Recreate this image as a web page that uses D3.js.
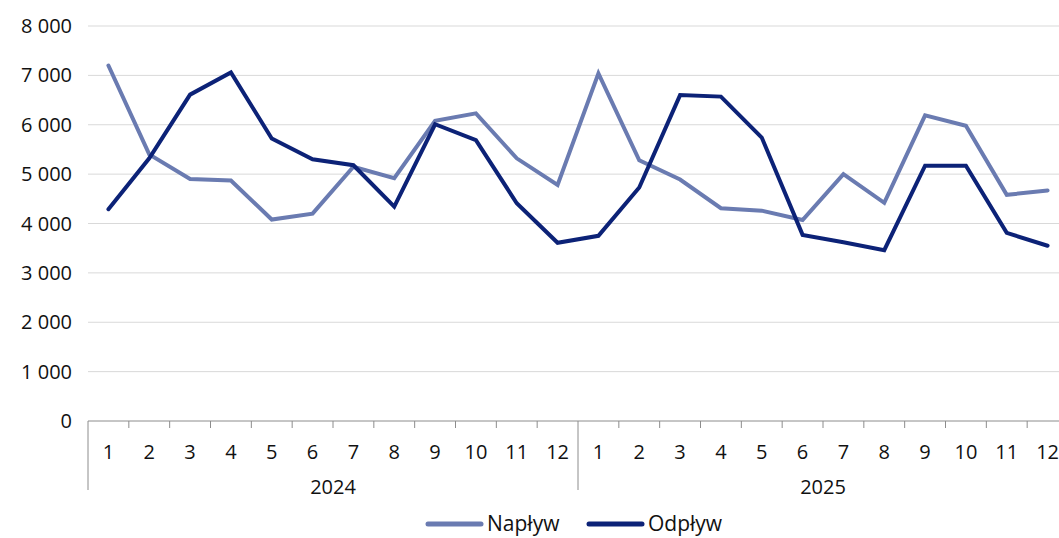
<!DOCTYPE html>
<html>
<head>
<meta charset="utf-8">
<script src="https://cdn.jsdelivr.net/npm/d3@7"></script>
<style>
  body { margin: 0; background: #fff; }
  svg text { font-family: "Open Sans", "Noto Sans", sans-serif; fill: #111; }
</style>
</head>
<body>
<div id="chart"></div>
<script>
//chart data
var years = ["2024", "2025"];
var months = ["1","2","3","4","5","6","7","8","9","10","11","12"];
var naplyw = [7200, 5400, 4900, 4870, 4080, 4200, 5150, 4920, 6080, 6230, 5320, 4780,
              7040, 5280, 4890, 4310, 4260, 4070, 5000, 4420, 6190, 5980, 4580, 4670];
var odplyw = [4290, 5320, 6610, 7060, 5720, 5300, 5180, 4340, 6010, 5690, 4410, 3610,
              3750, 4730, 6600, 6570, 5740, 3770, 3620, 3460, 5170, 5170, 3810, 3550];
var yTicks = [0, 1000, 2000, 3000, 4000, 5000, 6000, 7000, 8000];
var seriesNames = ["Napływ", "Odpływ"];
var seriesColors = ["#6a7bb1", "#0c2277"];

var width = 1059, height = 538;
var margin = {left: 88, top: 26, bottom: 117};
var plotRight = 1068; //last band runs a little past the frame edge

var svg = d3.select("#chart").append("svg")
    .attr("width", width)
    .attr("height", height);

//one category per month of each year
var cats = [];
years.forEach(function(y){
  months.forEach(function(m){ cats.push(y + "-" + m); });
});

var x = d3.scaleBand()
    .domain(cats)
    .range([margin.left, plotRight]);

var y = d3.scaleLinear()
    .domain([0, 8000])
    .range([height - margin.bottom, margin.top]);

var fmt = function(v){ return d3.format(",")(v).replace(/,/g, " "); };

//gridlines
svg.selectAll(".grid")
    .data(yTicks.slice(1))
    .enter().append("line")
    .attr("x1", margin.left).attr("x2", width)
    .attr("y1", function(d){ return y(d); })
    .attr("y2", function(d){ return y(d); })
    .attr("stroke", "#d9d9d9")
    .attr("stroke-width", 1);

//y labels
svg.selectAll(".ylab")
    .data(yTicks)
    .enter().append("text")
    .attr("x", 72)
    .attr("y", function(d){ return y(d) + 7; })
    .attr("text-anchor", "end")
    .style("font-size", "20px")
    .text(fmt);

//x axis line
var axisY = y(0);
svg.append("line")
    .attr("x1", margin.left).attr("x2", width)
    .attr("y1", axisY).attr("y2", axisY)
    .attr("stroke", "#8c8c8c");

//month ticks, longer at the year break
svg.selectAll(".tick")
    .data(cats.slice(1))
    .enter().append("line")
    .attr("x1", function(d){ return x(d); })
    .attr("x2", function(d){ return x(d); })
    .attr("y1", axisY)
    .attr("y2", function(d, i){ return (i + 1) % 12 == 0 ? axisY + 69 : axisY + 7; })
    .attr("stroke", "#8c8c8c");

//left edge separator
svg.append("line")
    .attr("x1", margin.left).attr("x2", margin.left)
    .attr("y1", axisY).attr("y2", axisY + 69)
    .attr("stroke", "#8c8c8c");

//month labels
svg.selectAll(".mlab")
    .data(cats)
    .enter().append("text")
    .attr("x", function(d){ return x(d) + x.bandwidth() / 2; })
    .attr("y", axisY + 38)
    .attr("text-anchor", "middle")
    .style("font-size", "20px")
    .text(function(d){ return d.split("-")[1]; });

//year labels
svg.selectAll(".ylabel")
    .data(years)
    .enter().append("text")
    .attr("x", function(d){
      return (x(d + "-1") + x(d + "-12") + x.bandwidth()) / 2;
    })
    .attr("y", axisY + 73)
    .attr("text-anchor", "middle")
    .style("font-size", "20px")
    .text(function(d){ return d; });

//lines
var line = d3.line()
    .x(function(d, i){ return x(cats[i]) + x.bandwidth() / 2; })
    .y(function(d){ return y(d); });

[naplyw, odplyw].forEach(function(s, i){
  svg.append("path")
      .datum(s)
      .attr("d", line)
      .attr("fill", "none")
      .attr("stroke", seriesColors[i])
      .attr("stroke-width", 4)
      .attr("stroke-linejoin", "miter")
      .attr("stroke-linecap", "round");
});

//legend
var legendX = [428, 589];
seriesNames.forEach(function(name, i){
  svg.append("line")
      .attr("x1", legendX[i]).attr("x2", legendX[i] + 53)
      .attr("y1", 524).attr("y2", 524)
      .attr("stroke", seriesColors[i])
      .attr("stroke-width", 5)
      .attr("stroke-linecap", "round");
  svg.append("text")
      .attr("x", legendX[i] + 59)
      .attr("y", 531)
      .style("font-size", "21px")
      .text(name);
});
</script>
</body>
</html>
